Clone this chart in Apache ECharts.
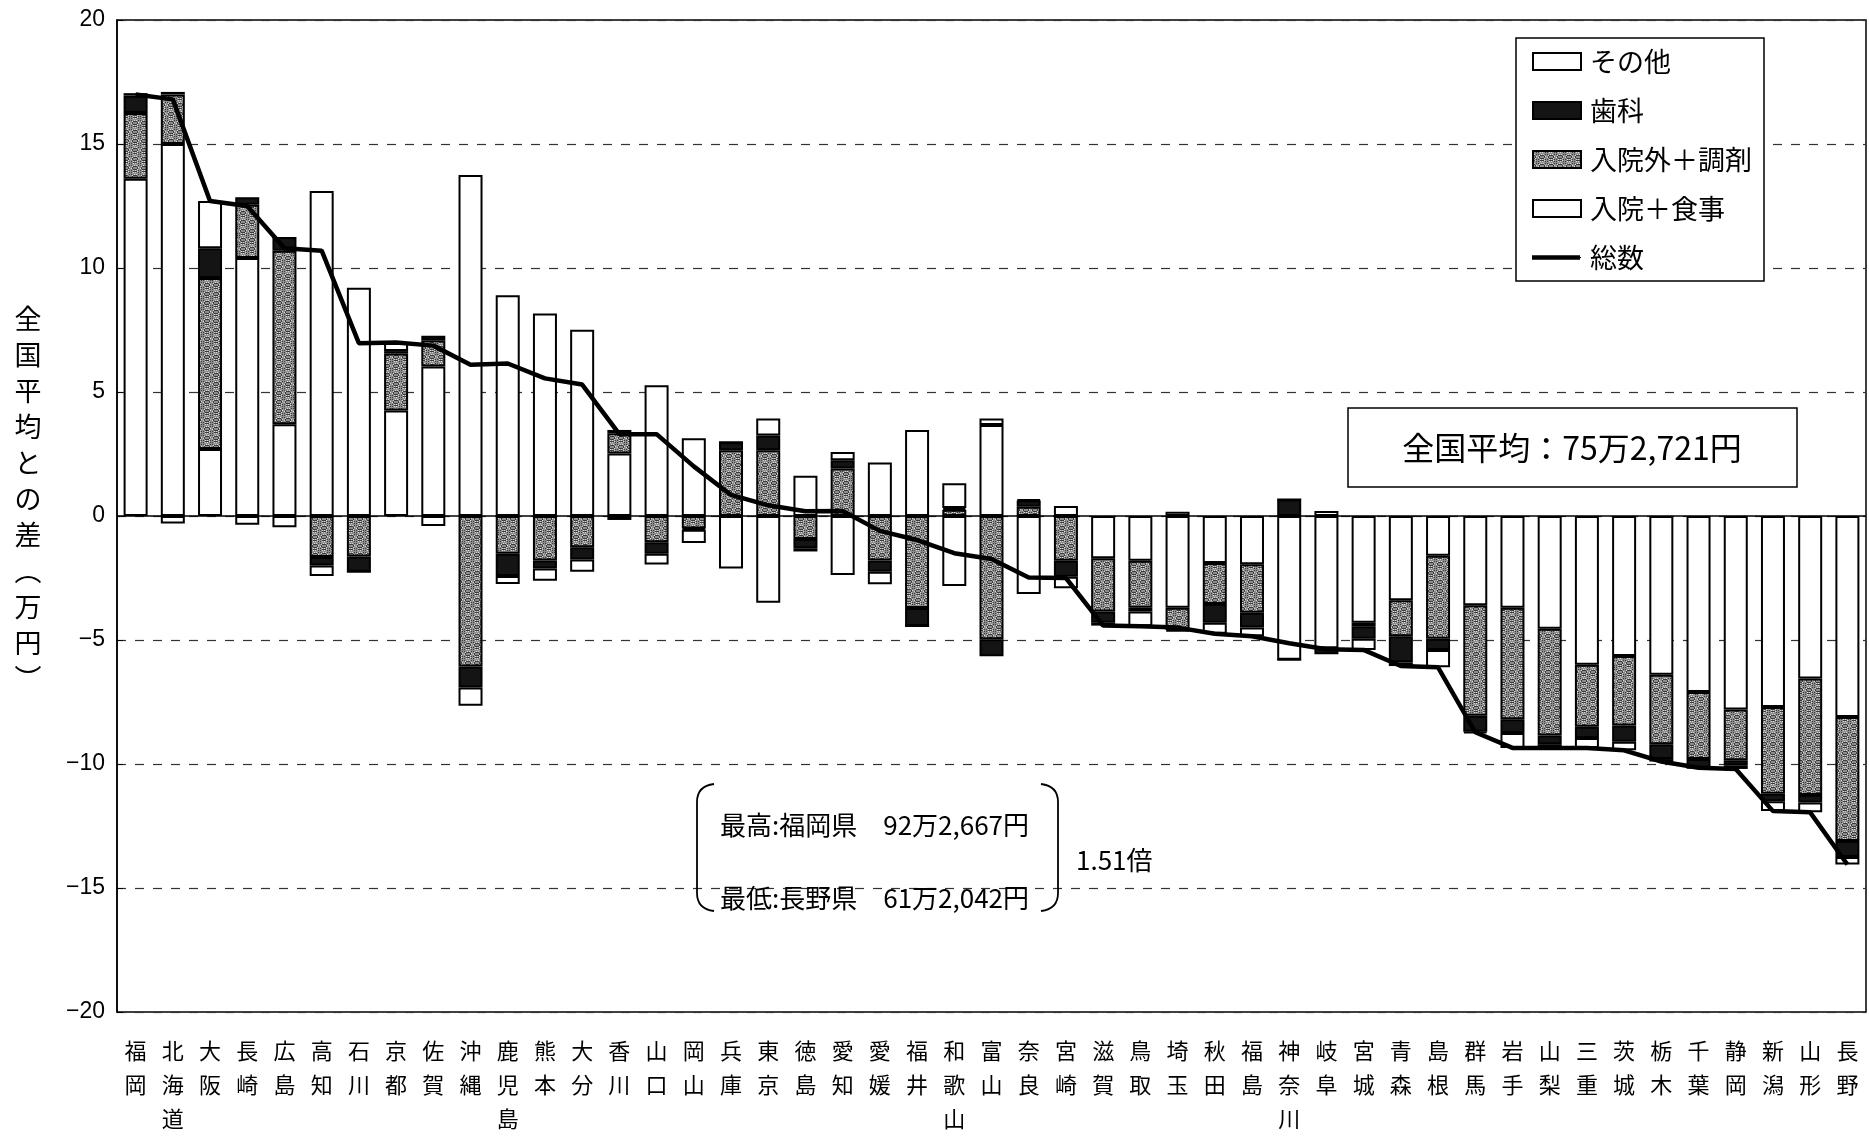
<!DOCTYPE html>
<html>
<head>
<meta charset="utf-8">
<script src="https://cdn.jsdelivr.net/npm/echarts@6/dist/echarts.min.js"></script>
<style>
html,body{margin:0;padding:0;background:#fff;}
#chart{width:1869px;height:1136px;}
</style>
</head>
<body>
<div id="chart"></div>
<script>
// ---- data (万円, difference from national average) ----
const categories = ['福岡','北海道','大阪','長崎','広島','高知','石川','京都','佐賀','沖縄','鹿児島','熊本','大分','香川','山口','岡山','兵庫','東京','徳島','愛知','愛媛','福井','和歌山','富山','奈良','宮崎','滋賀','鳥取','埼玉','秋田','福島','神奈川','岐阜','宮城','青森','島根','群馬','岩手','山梨','三重','茨城','栃木','千葉','静岡','新潟','山形','長野'];
// 入院＋食事
const nyuinShokuji = [13.6, 15.0, 2.7, 10.4, 3.7, 13.1, 9.2, 4.25, 6.03, 13.75, 8.9, 8.17, 7.51, 2.52, 5.27, 3.14, -2.12, -3.5, 1.62, -2.38, 2.16, 3.47, -2.82, 3.67, -3.15, 0.4, -1.7, -1.8, -3.7, -1.9, -1.95, -5.8, -5.33, -4.3, -3.4, -1.6, -3.6, -3.7, -4.55, -6.0, -5.65, -6.4, -7.1, -7.8, -7.7, -6.55, -8.1];
// 入院外＋調剤
const nyuingaiChozai = [2.65, 2.0, 6.9, 2.15, 7.0, -1.65, -1.63, 2.3, 1.06, -6.07, -1.52, -1.79, -1.26, 0.82, -1.06, -0.5, 2.65, 2.65, -0.93, 1.92, -1.79, -3.71, 0.25, -4.97, 0.37, -1.8, -2.15, -1.9, -0.9, -1.65, -1.95, 0, 0, -0.15, -1.45, -3.35, -4.45, -4.5, -4.3, -2.5, -2.8, -2.8, -2.7, -2.05, -3.5, -4.7, -5.0];
// 歯科
const shika = [0.7, 0.1, 1.2, 0.3, 0.55, -0.35, -0.62, 0.1, 0.18, -0.85, -0.9, -0.33, -0.49, 0.13, -0.46, -0.05, 0.32, 0.6, -0.37, 0.33, -0.46, -0.73, 0.07, -0.69, 0.25, -0.65, -0.45, -0.15, -0.05, -0.75, -0.6, 0.67, -0.24, -0.5, -1.05, -0.45, -0.65, -0.55, -0.35, -0.45, -0.65, -0.6, -0.35, -0.2, -0.3, -0.3, -0.65];
// その他
const sonota = [0.1, -0.3, 1.9, -0.35, -0.45, -0.42, 0, 0.35, -0.4, -0.73, -0.32, -0.49, -0.5, -0.16, -0.44, -0.54, 0, 0.68, -0.13, 0.33, -0.5, 0, 1.0, 0.26, 0.05, -0.46, -0.12, -0.6, 0.17, -0.45, -0.35, 0, 0.2, -0.45, -0.15, -0.7, -0.05, -0.6, -0.15, -0.4, -0.35, -0.1, 0, -0.15, -0.4, -0.4, -0.3];
// 総数
const sosu = [17.0, 16.8, 12.7, 12.5, 10.8, 10.7, 6.97, 7.0, 6.87, 6.1, 6.15, 5.55, 5.3, 3.3, 3.3, 2.0, 0.85, 0.43, 0.19, 0.2, -0.6, -0.97, -1.5, -1.73, -2.48, -2.5, -4.42, -4.45, -4.5, -4.75, -4.85, -5.13, -5.37, -5.4, -6.05, -6.1, -8.72, -9.35, -9.35, -9.35, -9.45, -9.9, -10.15, -10.2, -11.9, -11.95, -14.05];
// value axis ticks
const yMin = -20, yMax = 20, yStep = 5;

const seriesNames = ['入院＋食事','入院外＋調剤','歯科','その他','総数'];

const JP = '"Noto Sans CJK JP", "Noto Sans CJK SC", sans-serif';
const NUM = '"Liberation Sans", Arial, sans-serif';

function makeStipple(){
  const c = document.createElement('canvas');
  c.width = 9; c.height = 9;
  const g = c.getContext('2d');
  g.fillStyle = '#8e8e8e'; g.fillRect(0,0,9,9);
  for (let y=0;y<9;y++){
    for (let x=0;x<9;x++){
      const h = (x*5 + y*3 + x*y) % 7;
      if (h === 0 || h === 5){ g.fillStyle='#3a3a3a'; g.fillRect(x,y,1,1); }
      else if (h === 3){ g.fillStyle='#d8d8d8'; g.fillRect(x,y,1,1); }
    }
  }
  return c;
}
const stipple = {image: makeStipple(), repeat: 'repeat'};

const chart = echarts.init(document.getElementById('chart'), null, {renderer:'canvas'});

const barBase = {type:'bar', stack:'total', barWidth:24, z:2,
  emphasis:{disabled:true}};

function bracket(xTip, xSide, y1, y2){
  const s = {fill:'none', stroke:'#000', lineWidth:1.8};
  return [
    {type:'bezierCurve', z:10, shape:{x1:xTip, y1:y1, x2:xSide, y2:y1+18, cpx1:xSide, cpy1:y1+2}, style:s},
    {type:'line', z:10, shape:{x1:xSide, y1:y1+18, x2:xSide, y2:y2-18}, style:s},
    {type:'bezierCurve', z:10, shape:{x1:xSide, y1:y2-18, x2:xTip, y2:y2, cpx1:xSide, cpy1:y2-2}, style:s}
  ];
}

// legend geometry (style only)
const LG = {left:1516, top:38, padL:16, padT:10, iconW:48, rowH:27, gap:22};

const option = {
  animation:false,
  backgroundColor:'#fff',
  grid:{left:117, right:3, top:20, bottom:114, show:true, borderColor:'#000', borderWidth:1.5, backgroundColor:'transparent'},
  legend:{
    data: [
      {name:'その他', icon:'rect'},
      {name:'歯科', icon:'rect'},
      {name:'入院外＋調剤', icon:'rect'},
      {name:'入院＋食事', icon:'rect'},
      {name:'総数', icon:'path://M0,0 H100 V2 H0 Z'}
    ],
    orient:'vertical', left:LG.left, top:LG.top,
    padding:[LG.padT,12,10,LG.padL],
    itemWidth:LG.iconW, itemHeight:17, itemGap:LG.gap,
    backgroundColor:'#fff', borderColor:'#000', borderWidth:1.5,
    textStyle:{fontFamily:JP, fontSize:27, color:'#000', lineHeight:LG.rowH, padding:[0,0,0,4]},
    selectedMode:false
  },
  xAxis:{
    type:'category', data:categories,
    axisLine:{show:false, onZero:false},
    axisTick:{show:false},
    axisLabel:{interval:0, margin:22, fontFamily:JP, fontSize:22, color:'#000', lineHeight:34, verticalAlign:'top',
      formatter: v => v.split('').join('\n')}
  },
  yAxis:{
    type:'value', min:yMin, max:yMax, interval:yStep,
    axisLine:{show:true, lineStyle:{color:'#000', width:1.5}},
    axisTick:{show:true, inside:true, length:6, lineStyle:{color:'#000'}},
    axisLabel:{fontFamily:NUM, fontSize:23, color:'#000', margin:12,
      formatter: v => String(v).replace('-', '−')},
    splitLine:{show:true, lineStyle:{color:'#333', width:1.2, type:[9,9]}}
  },
  series:[
    Object.assign({}, barBase, {name:seriesNames[0], data:nyuinShokuji,
      itemStyle:{color:'#fff', borderColor:'#000', borderWidth:2},
      markLine:{silent:true, symbol:'none', label:{show:false}, data:[{yAxis:0}],
        lineStyle:{color:'#000', width:1.5, type:'solid'}}}),
    Object.assign({}, barBase, {name:seriesNames[1], data:nyuingaiChozai,
      itemStyle:{color:stipple, borderColor:'#000', borderWidth:2}}),
    Object.assign({}, barBase, {name:seriesNames[2], data:shika,
      itemStyle:{color:'#141414', borderColor:'#000', borderWidth:2}}),
    Object.assign({}, barBase, {name:seriesNames[3], data:sonota,
      itemStyle:{color:'#fff', borderColor:'#000', borderWidth:2}}),
    {type:'line', name:seriesNames[4], data:sosu, symbol:'none', z:5,
      lineStyle:{color:'#000', width:4.5}, itemStyle:{color:'#000'}, emphasis:{disabled:true}}
  ],
  graphic:[
    {type:'text', x:28, y:301, z:10,
      style:{text:'全\n国\n平\n均\nと\nの\n差\n︵\n万\n円\n︶', fontFamily:JP, fontSize:27, lineHeight:36, fill:'#000', align:'center', verticalAlign:'top'}},
    {type:'rect', z:10, shape:{x:1348,y:408,width:449,height:79}, style:{fill:'#fff', stroke:'#000', lineWidth:1.5}},
    {type:'text', z:11, x:1572, y:448, style:{text:'全国平均：75万2,721円', fontFamily:JP, fontSize:32, fill:'#000', align:'center', verticalAlign:'middle'}},
    {type:'text', x:720, y:825, z:10, style:{text:'最高:福岡県　92万2,667円', fontFamily:JP, fontSize:26, fill:'#000', verticalAlign:'middle'}},
    {type:'text', x:720, y:898, z:10, style:{text:'最低:長野県　61万2,042円', fontFamily:JP, fontSize:26, fill:'#000', verticalAlign:'middle'}},
    {type:'text', x:1076, y:860, z:10, style:{text:'1.51倍', fontFamily:JP, fontSize:26, fill:'#000', verticalAlign:'middle'}},
    // thicker legend key for 総数
    {type:'line', z:100, shape:{x1:LG.left+LG.padL, y1:LG.top+LG.padT+4*(LG.rowH+LG.gap)+LG.rowH/2,
      x2:LG.left+LG.padL+LG.iconW, y2:LG.top+LG.padT+4*(LG.rowH+LG.gap)+LG.rowH/2},
      style:{stroke:'#000', lineWidth:4.5}}
  ].concat(bracket(714, 697, 784, 911), bracket(1041, 1058, 784, 911))
};
chart.setOption(option);
</script>
</body>
</html>
